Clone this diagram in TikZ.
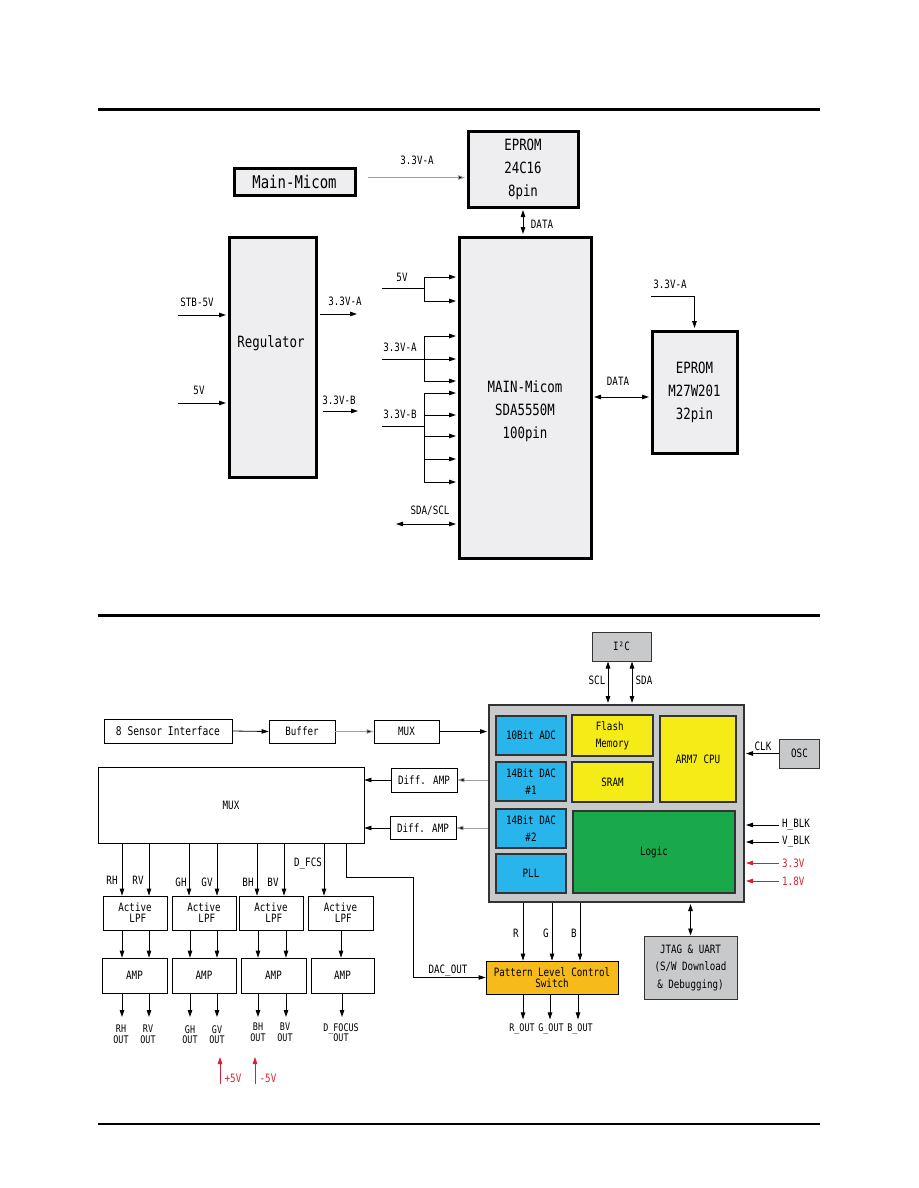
\documentclass[tikz,border=0pt]{standalone}
\usepackage{fontspec}
\setmainfont{DejaVu Sans Mono}[FakeStretch=0.8]
\usetikzlibrary{arrows.meta,calc}
\newcommand\myfs[2]{\fontsize{#1}{#2}\selectfont}
\definecolor{boxgray}{HTML}{EEEEF0}
\definecolor{chipgray}{HTML}{C8C9CB}
\definecolor{subline}{HTML}{333333}
\definecolor{cblue}{HTML}{27B5EC}
\definecolor{cyellow}{HTML}{F5EB16}
\definecolor{cgreen}{HTML}{19A84A}
\definecolor{corange}{HTML}{F7BA1B}
\definecolor{cred}{HTML}{D32232}
\tikzset{
 tbox/.style={draw=black, line width=3pt, fill=boxgray, inner sep=0pt, align=center},
 nbox/.style={draw=black, line width=0.8pt, fill=white, inner sep=0pt, align=center, font=\myfs{11.5}{11}},
 gbox/.style={draw=subline, line width=1pt, fill=chipgray, inner sep=0pt, align=center, font=\myfs{11.5}{17.5}},
 sub/.style={draw=subline, line width=1.2pt, inner sep=0pt, align=center, font=\myfs{11.5}{17}},
 arr/.style={-{Triangle[length=7pt,width=4.5pt]}, line width=0.8pt},
 darr/.style={{Triangle[length=7pt,width=4.5pt]}-{Triangle[length=7pt,width=4.5pt]}, line width=0.8pt},
 garr/.style={arr, draw=gray!75, -{Triangle[length=7pt,width=4.5pt,fill=black]}},
 rarr/.style={arr, draw=cred, -{Triangle[length=7pt,width=4.5pt,fill=cred]}},
 ln/.style={line width=0.8pt},
 lbl/.style={inner sep=0pt, font=\myfs{11.5}{12}},
 rlbl/.style={lbl, text=cred},
 olbl/.style={inner sep=1pt, align=center, font=\myfs{10.5}{10.5}},
}
\begin{document}
\begin{tikzpicture}[x=1pt,y=-1pt]
\useasboundingbox[fill=white] (0,0) rectangle (918,1188);
% rules
\draw[line width=3pt] (98,110) -- (820,110);
\draw[line width=3pt] (98,615) -- (820,615);
\draw[line width=1.2pt] (98,1124) -- (820,1124);

% ===== top section =====
\node[tbox, minimum width=121pt, minimum height=27pt, font=\myfs{17.5}{18}] (mm) at (294.5,181.5) {Main-Micom};
\node[tbox, minimum width=110pt, minimum height=75pt, font=\myfs{15.5}{23}] (ep1) at (523,169.5) {EPROM\\24C16\\8pin};
\node[tbox, minimum width=132pt, minimum height=321pt] (main) at (525,397.5) {};
\node[lbl, font=\myfs{15.5}{23}, align=center] (maintxt) at (525,411) {MAIN-Micom\\SDA5550M\\100pin};
\node[tbox, minimum width=87pt, minimum height=240pt] (reg) at (272.5,357) {};
\node[lbl, font=\myfs{15.5}{18}] (regtxt) at (271,343) {Regulator};
\node[tbox, minimum width=85pt, minimum height=122pt, font=\myfs{15.5}{23}] (ep2) at (694.5,392) {EPROM\\M27W201\\32pin};

\coordinate (a1) at ([xshift=11pt,yshift=4pt]mm.east);
\draw[garr, shorten >=1.5pt] (a1) -- (a1 -| ep1.west);
\node[lbl] (l33a) at (417,160) {3.3V-A};
\draw[darr, shorten <=1.5pt, shorten >=1.5pt] (ep1.south) -- (ep1.south |- main.north);
\node[lbl] (ldata1) at (542,224) {DATA};

% regulator
\coordinate (s1) at (178,315);
\draw[arr, shorten >=1.5pt] (s1) -- (s1 -| reg.west);
\node[lbl] at (197,302) {STB-5V};
\coordinate (s2) at (178,403);
\draw[arr, shorten >=1.5pt] (s2) -- (s2 -| reg.west);
\node[lbl] at (199,390) {5V};
\coordinate (o1s) at (320,314); \coordinate (o1e) at (357,314);
\draw[arr] (o1s) -- (o1e);
\node[lbl] at (345,301) {3.3V-A};
\coordinate (o2s) at (323,411); \coordinate (o2e) at (358,411);
\draw[arr] (o2s) -- (o2e);
\node[lbl] at (339,400) {3.3V-B};

% main inputs
\draw[ln] (382,288) -- (424,288);
\draw[ln] (424,277) -- (424,301);
\foreach \yy in {277,301} \draw[arr, shorten >=1.5pt] (424,\yy) -- (main.west |- 0,\yy);
\node[lbl] at (402,277) {5V};
\draw[ln] (382,359) -- (424,359);
\draw[ln] (424,336) -- (424,381);
\foreach \yy in {336,359,381} \draw[arr, shorten >=1.5pt] (424,\yy) -- (main.west |- 0,\yy);
\node[lbl] at (400,347) {3.3V-A};
\draw[ln] (382,426) -- (424,426);
\draw[ln] (424,393) -- (424,482);
\foreach \yy in {393,415,436,459,482} \draw[arr, shorten >=1.5pt] (424,\yy) -- (main.west |- 0,\yy);
\node[lbl] at (400,414) {3.3V-B};
\coordinate (sda) at (396,524);
\draw[darr, shorten >=1.5pt] (sda) -- (sda -| main.west);
\node[lbl] at (430,511) {SDA/SCL};

% EPROM 2
\coordinate (e2a) at (651,296);
\draw[arr, shorten >=1.5pt] (e2a) -| (ep2.north);
\node[lbl] at (670,284) {3.3V-A};
\coordinate (e2d) at (ep2.west |- 0,397);
\draw[darr, shorten <=1.5pt, shorten >=1.5pt] (main.east |- e2d) -- (e2d);
\node[lbl] at (618,381) {DATA};

% ===== bottom section =====
\node[nbox, minimum width=128pt, minimum height=24pt, font=\myfs{12}{12}] (sens) at (168,731) {8 Sensor Interface};
\node[nbox, minimum width=66pt, minimum height=23pt] (buf) at (302,731.5) {Buffer};
\node[nbox, minimum width=65pt, minimum height=23pt] (mux1) at (406.5,731.5) {MUX};
\node[draw=subline, line width=2pt, fill=chipgray, minimum width=255pt, minimum height=197pt, inner sep=0pt] (chip) at (616.5,803.5) {};
\node[sub, fill=cblue, minimum width=70pt, minimum height=39pt] (adc) at (531,735.5) {10Bit ADC};
\node[sub, fill=cblue, minimum width=70pt, minimum height=39pt] (dac1) at (531,781.5) {14Bit DAC\\\#1};
\node[sub, fill=cblue, minimum width=70pt, minimum height=39pt] (dac2) at (531,828.5) {14Bit DAC\\\#2};
\node[sub, fill=cblue, minimum width=70pt, minimum height=39pt] (pll) at (531,873.5) {PLL};
\node[sub, fill=cyellow, minimum width=81pt, minimum height=41pt, align=left] (flash) at (612.5,735.5) {Flash\\Memory};
\node[sub, fill=cyellow, minimum width=81pt, minimum height=40pt] (sram) at (612.5,782) {SRAM};
\node[sub, fill=cyellow, minimum width=76pt, minimum height=86pt] (arm) at (698,759) {ARM7 CPU};
\node[sub, fill=cgreen, minimum width=162pt, minimum height=82pt] (logic) at (654,852) {Logic};
\node[gbox, minimum width=59pt, minimum height=29pt] (i2c) at (621.5,646.5) {I²C};
\node[gbox, minimum width=40pt, minimum height=29pt] (osc) at (799.5,753.5) {OSC};
\node[nbox, minimum width=266pt, minimum height=76pt] (mux2) at (231,805) {MUX};
\node[nbox, minimum width=66pt, minimum height=24pt] (da1) at (424,780) {Diff. AMP};
\node[nbox, minimum width=66pt, minimum height=23pt] (da2) at (423,828) {Diff. AMP};
\node[nbox, minimum width=64pt, minimum height=34pt, align=left] (lpf1) at (135,913) {Active\\\phantom{Ac}LPF};
\node[nbox, minimum width=64pt, minimum height=34pt, align=left] (lpf2) at (204,913) {Active\\\phantom{Ac}LPF};
\node[nbox, minimum width=64pt, minimum height=34pt, align=left] (lpf3) at (271,913) {Active\\\phantom{Ac}LPF};
\node[nbox, minimum width=65pt, minimum height=34pt, align=left] (lpf4) at (340.5,913) {Active\\\phantom{Ac}LPF};
\node[nbox, minimum width=65pt, minimum height=35pt] (amp1) at (134.5,975.5) {AMP};
\node[nbox, minimum width=64pt, minimum height=35pt] (amp2) at (204,975.5) {AMP};
\node[nbox, minimum width=65pt, minimum height=35pt] (amp3) at (273.5,975.5) {AMP};
\node[nbox, minimum width=63pt, minimum height=35pt] (amp4) at (342.5,975.5) {AMP};
\node[nbox, fill=corange, minimum width=132pt, minimum height=33pt] (pat) at (552,977.5) {Pattern Level Control\\Switch};
\node[gbox, minimum width=93pt, minimum height=63pt] (jtag) at (690.5,967.5) {JTAG \& UART\\(S/W Download\\\& Debugging)};

% top chain
\draw[arr] (sens.east) -- (buf.west);
\draw[garr] (buf.east) -- (mux1.west);
\draw[arr, shorten >=1pt] (mux1.east) -- (mux1.east -| chip.west);
\draw[garr] (chip.west |- da1.east) -- (da1.east);
\draw[arr] (da1.west) -- (mux2.east |- da1.west);
\draw[garr] (chip.west |- da2.east) -- (da2.east);
\draw[arr] (da2.west) -- (mux2.east |- da2.west);

% I2C
\draw[darr, shorten >=1pt] ([xshift=-13.5pt]i2c.south) -- ([xshift=-13.5pt]i2c.south |- chip.north);
\draw[darr, shorten >=1pt] ([xshift=10.5pt]i2c.south) -- ([xshift=10.5pt]i2c.south |- chip.north);
\node[lbl] at (597,680) {SCL};
\node[lbl] at (644,680) {SDA};

% right side
\draw[arr, shorten >=1pt] (osc.west) -- (osc.west -| chip.east);
\node[lbl] at (763,746) {CLK};
\node[lbl, anchor=west] (hblk) at (782,825) {H\_BLK};
\draw[arr, shorten >=1pt] ([xshift=-3pt]hblk.west) -- (hblk.west -| chip.east);
\node[lbl, anchor=west] (vblk) at (782,842) {V\_BLK};
\draw[arr, shorten >=1pt] ([xshift=-3pt]vblk.west) -- (vblk.west -| chip.east);
\node[rlbl, anchor=west] (v33) at (782,863) {3.3V};
\draw[rarr, shorten >=1pt] ([xshift=-3pt]v33.west) -- (v33.west -| chip.east);
\node[rlbl, anchor=west] (v18) at (782,881) {1.8V};
\draw[rarr, shorten >=1pt] ([xshift=-3pt]v18.west) -- (v18.west -| chip.east);

% R G B
\foreach \dx/\t/\lx in {-29/R/516,0/G/546,28/B/574} {
  \draw[arr] ([xshift=\dx pt]pat.north |- chip.south) -- ([xshift=\dx pt]pat.north);
  \node[lbl] at (\lx,933) {\t};
}
\draw[darr, shorten <=1pt] (jtag.north |- chip.south) -- (jtag.north);

% DAC_OUT
\coordinate (dacbend) at (413,877);
\draw[arr] ([xshift=-18pt]mux2.south east) |- (dacbend) |- (pat.west);
\node[lbl] at (448,971) {DAC\_OUT};

% pattern outputs
\node[olbl] (rout) at (522,1029) {R\_OUT};
\node[olbl] (gout) at (551,1029) {G\_OUT};
\node[olbl] (bout) at (580,1029) {B\_OUT};
\draw[arr] ([xshift=-29pt]pat.south) -- ++(0,25);
\draw[arr] ([xshift=-2pt]pat.south) -- ++(0,25);
\draw[arr] ([xshift=26pt]pat.south) -- ++(0,25);

% MUX to LPF
\foreach \n/\dx in {lpf1/-13,lpf1/14,lpf2/-15,lpf2/13,lpf3/-14,lpf3/13,lpf4/-16.5}
  \draw[arr] ([xshift=\dx pt]\n.north |- mux2.south) -- ([xshift=\dx pt]\n.north);
\node[lbl] at (112,880) {RH};
\node[lbl] at (138,880) {RV};
\node[lbl] at (181,882) {GH};
\node[lbl] at (207,882) {GV};
\node[lbl] at (248,882) {BH};
\node[lbl] at (273,882) {BV};
\node[lbl] at (308,864) {D\_FCS};

% LPF to AMP
\foreach \n/\m/\dx in {lpf1/amp1/-13,lpf1/amp1/14,lpf2/amp2/-14,lpf2/amp2/13,lpf3/amp3/-13,lpf3/amp3/15,lpf4/amp4/0.5}
  \draw[arr] ([xshift=\dx pt]\n.south) -- ([xshift=\dx pt]\n.south |- \m.north);

% AMP outputs
\node[olbl, anchor=north] (o1) at (121,1024) {RH\\OUT};
\node[olbl, anchor=north] (o2) at (148,1024) {RV\\OUT};
\node[olbl, anchor=north] (o3) at (190,1024) {GH\\OUT};
\node[olbl, anchor=north] (o4) at (217,1024) {GV\\OUT};
\node[olbl, anchor=north] (o5) at (258,1022) {BH\\OUT};
\node[olbl, anchor=north] (o6) at (285,1022) {BV\\OUT};
\node[olbl, anchor=north] (o7) at (341,1022) {D\_FOCUS\\OUT};
\foreach \n/\m/\xx in {amp1/o1/122,amp1/o2/149,amp2/o3/190,amp2/o4/217,amp3/o5/258,amp3/o6/286,amp4/o7/342}
  \draw[arr] (\n.south -| \xx,0) -- (\xx,1017);

% supply arrows
\coordinate (p5a) at (220,1084); \coordinate (p5b) at (220,1057);
\draw[rarr] (p5a) -- (p5b);
\node[rlbl] at (233,1078) {+5V};
\coordinate (m5a) at (255,1084); \coordinate (m5b) at (255,1057);
\draw[rarr] (m5a) -- (m5b);
\node[rlbl] at (268,1078) {-5V};
\end{tikzpicture}
\end{document}
